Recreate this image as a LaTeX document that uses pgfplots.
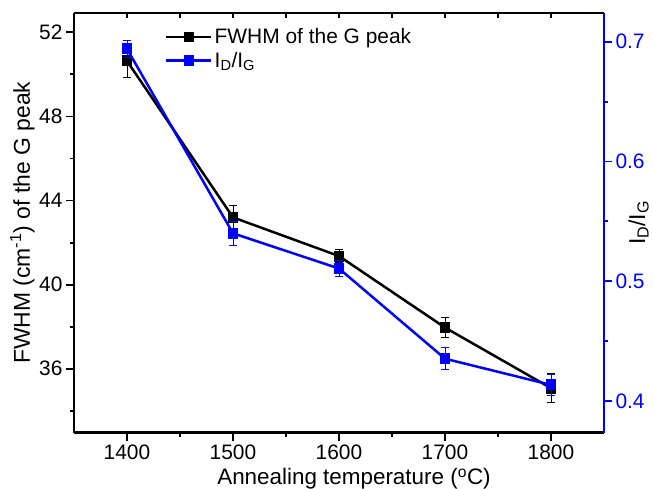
\documentclass[border=0pt]{standalone}
\usepackage{fontspec}
\setmainfont{Liberation Sans}
\usepackage{pgfplots}
\pgfplotsset{compat=1.18}
\definecolor{myblue}{RGB}{0,0,255}

\begin{document}
\begin{tikzpicture}
\pgfplotsset{
  every axis/.append style={
    scale only axis, width=530bp, height=419.7bp,
    xmin=1350, xmax=1850,
    font=\fontsize{21}{25}\selectfont,
    /pgf/number format/assume math mode=true,
    axis line style={-, line width=2.5bp},
    every tick/.style={line width=1.8bp},
  }
}
% top ticks
\begin{axis}[at={(0,0)}, anchor=south west,
  ymin=0, ymax=1,
  axis x line*=top, axis y line=none,
  tick align=inside,
  xtick={1400,1500,1600,1700,1800},
  minor xtick={1450,1550,1650,1750},
  major tick length=5bp, minor tick length=5bp,
  xticklabels={},
]
\end{axis}
% left axis
\begin{axis}[at={(0,0)}, anchor=south west,
  ymin=32.96, ymax=52.92,
  axis x line*=bottom, axis y line*=left,
  tick align=outside,
  xtick={1400,1500,1600,1700,1800},
  minor xtick={1450,1550,1650,1750},
  ytick={36,40,44,48,52},
  minor ytick={34,38,42,46,50},
  major tick length=8bp, minor tick length=4bp,
  x tick label style={/pgf/number format/1000 sep={}, inner sep=0bp, yshift=-4bp},
  xlabel={Annealing temperature (\textsuperscript{o}C)},
  ylabel={FWHM (cm\textsuperscript{-1}) of the G peak},
  every axis x label/.style={at={(axis description cs:0.5,0)}, anchor=base, yshift=-52bp, xshift=15bp, font=\fontsize{22.5}{26}\selectfont},
  every axis y label/.style={at={(axis description cs:0,0.5)}, anchor=base, rotate=90, yshift=44bp, font=\fontsize{23}{27}\selectfont},
]
\addplot[black, line width=2.5bp, mark=square*, mark size=4.2bp,
  error bars/.cd, y dir=both, y explicit,
  error bar style={line width=0.9bp, black},
  error mark options={rotate=90, mark size=4bp, line width=0.9bp, black}]
  table[x=x, y=y, y error=e] {
x y e
1400 50.64 0.80
1500 43.20 0.55
1600 41.36 0.30
1700 37.96 0.47
1800 35.08 0.70
};
\end{axis}
% right axis
\begin{axis}[at={(0,0)}, anchor=south west,
  ymin=0.3735, ymax=0.7240,
  axis x line=none, axis y line*=right,
  tick align=outside,
  ytick={0.4,0.5,0.6,0.7},
  minor ytick={0.45,0.55,0.65},
  major tick length=8bp, minor tick length=4bp,
  y axis line style={myblue},
  y tick style={myblue},
  yticklabel style={myblue, /pgf/number format/fixed, /pgf/number format/precision=1},
  ylabel={I\textsubscript{D}/I\textsubscript{G}},
  every axis y label/.style={at={(axis description cs:1,0.5)}, anchor=base, rotate=90, yshift=-41bp, font=\fontsize{23}{27}\selectfont},
  legend style={draw=none, fill=none, at={(axis description cs:0.1717,0.968)}, anchor=north west,
    font=\fontsize{21}{25}\selectfont, row sep=3bp, inner sep=0pt,
    nodes={inner sep=2bp}},
  legend cell align=left,
  legend image code/.code={\draw[mark repeat=2, mark phase=2] plot coordinates {(0bp,0bp) (22.5bp,0bp) (45bp,0bp)};},
]
\addlegendimage{black, line width=2.5bp, mark=square*, mark size=4.2bp}
\addlegendentry{FWHM of the G peak}
\addplot[myblue, line width=2.5bp, mark=square*, mark size=4.2bp,
  error bars/.cd, y dir=both, y explicit,
  error bar style={line width=0.9bp, myblue},
  error mark options={rotate=90, mark size=4bp, line width=0.9bp, myblue}]
  table[x=x, y=y, y error=e] {
x y e
1400 0.6940 0.0070
1500 0.5400 0.0100
1600 0.5106 0.0070
1700 0.4353 0.0090
1800 0.4134 0.0090
};
\addlegendentry{I\textsubscript{D}/I\textsubscript{G}}
\end{axis}
\pgfresetboundingbox
\path (-74bp,-56.3bp) rectangle (579bp,432.7bp);
\end{tikzpicture}
\end{document}
